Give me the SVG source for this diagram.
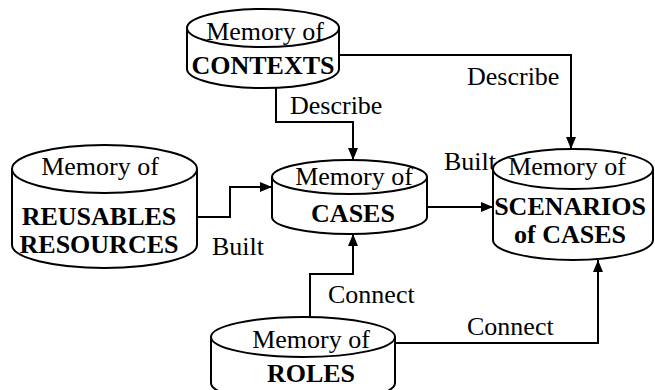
<svg xmlns="http://www.w3.org/2000/svg" width="655" height="390" viewBox="0 0 655 390">
<style>
.cyl{fill:#fff;stroke:#000;stroke-width:2}
.c{fill:none;stroke:#000;stroke-width:2}
.t{font-family:Times New Roman, Liberation Serif, serif;font-size:26px}
</style>
<defs>
<marker id="ah" viewBox="0 0 12 10" refX="12" refY="5" markerWidth="12" markerHeight="10" markerUnits="userSpaceOnUse" orient="auto">
<path d="M0,0 L12,5 L0,10 Z" fill="#000"/>
</marker>
</defs>
<rect width="655" height="390" fill="#fff"/>
<g id="connectors">
<polyline class="c" points="276,88 276,122 353,122 353,160" marker-end="url(#ah)"/>
<polyline class="c" points="339,55 571,55 571,149" marker-end="url(#ah)"/>
<polyline class="c" points="197,217 230,217 230,187 272,187" marker-end="url(#ah)"/>
<polyline class="c" points="427,207 493,207" marker-end="url(#ah)"/>
<polyline class="c" points="310,317 310,274 353,274 353,234" marker-end="url(#ah)"/>
<polyline class="c" points="395,343 598,343 598,260" marker-end="url(#ah)"/>
<text class="t" font-family="Times New Roman" x="290" y="114">Describe</text>
<text class="t" font-family="Times New Roman" x="467" y="85">Describe</text>
<text class="t" font-family="Times New Roman" x="444" y="170">Built</text>
<text class="t" font-family="Times New Roman" x="212" y="255">Built</text>
<text class="t" font-family="Times New Roman" x="328" y="303">Connect</text>
<text class="t" font-family="Times New Roman" x="467" y="335">Connect</text>
</g>
<g id="contexts">
<path class="cyl" d="M187,28 L187,69 A76,19 0 0 0 339,69 L339,28"/>
<ellipse class="cyl" cx="263" cy="28" rx="76" ry="19"/>
<text class="t" font-family="Times New Roman" text-anchor="middle" x="265" y="40">Memory of</text>
<text class="t" font-family="Times New Roman" font-weight="bold" text-anchor="middle" x="263" y="74">CONTEXTS</text>
</g>
<g id="reusables">
<path class="cyl" d="M12,169 L12,245 A92.5,23 0 0 0 197,245 L197,169"/>
<ellipse class="cyl" cx="104.5" cy="169" rx="92.5" ry="24"/>
<text class="t" font-family="Times New Roman" text-anchor="middle" x="100" y="175">Memory of</text>
<text class="t" font-family="Times New Roman" font-weight="bold" text-anchor="middle" x="99" y="225">REUSABLES</text>
<text class="t" font-family="Times New Roman" font-weight="bold" text-anchor="middle" x="99" y="253">RESOURCES</text>
</g>
<g id="cases">
<path class="cyl" d="M272,177 L272,217 A77.5,17 0 0 0 427,217 L427,177"/>
<ellipse class="cyl" cx="349.5" cy="177" rx="77.5" ry="17"/>
<text class="t" font-family="Times New Roman" text-anchor="middle" x="354" y="185">Memory of</text>
<text class="t" font-family="Times New Roman" font-weight="bold" text-anchor="middle" x="353" y="222">CASES</text>
</g>
<g id="scenarios">
<path class="cyl" d="M493,169 L493,240 A80,20 0 0 0 653,240 L653,169"/>
<ellipse class="cyl" cx="573" cy="169" rx="80" ry="20"/>
<text class="t" font-family="Times New Roman" text-anchor="middle" x="567" y="175">Memory of</text>
<text class="t" font-family="Times New Roman" font-weight="bold" text-anchor="middle" x="570" y="215">SCENARIOS</text>
<text class="t" font-family="Times New Roman" font-weight="bold" text-anchor="middle" x="570" y="243">of CASES</text>
</g>
<g id="roles">
<path class="cyl" d="M211,337 L211,383 A92,20 0 0 0 395,383 L395,337"/>
<ellipse class="cyl" cx="303" cy="337" rx="92" ry="20"/>
<text class="t" font-family="Times New Roman" text-anchor="middle" x="311" y="348">Memory of</text>
<text class="t" font-family="Times New Roman" font-weight="bold" text-anchor="middle" x="311" y="382">ROLES</text>
</g>
</svg>
